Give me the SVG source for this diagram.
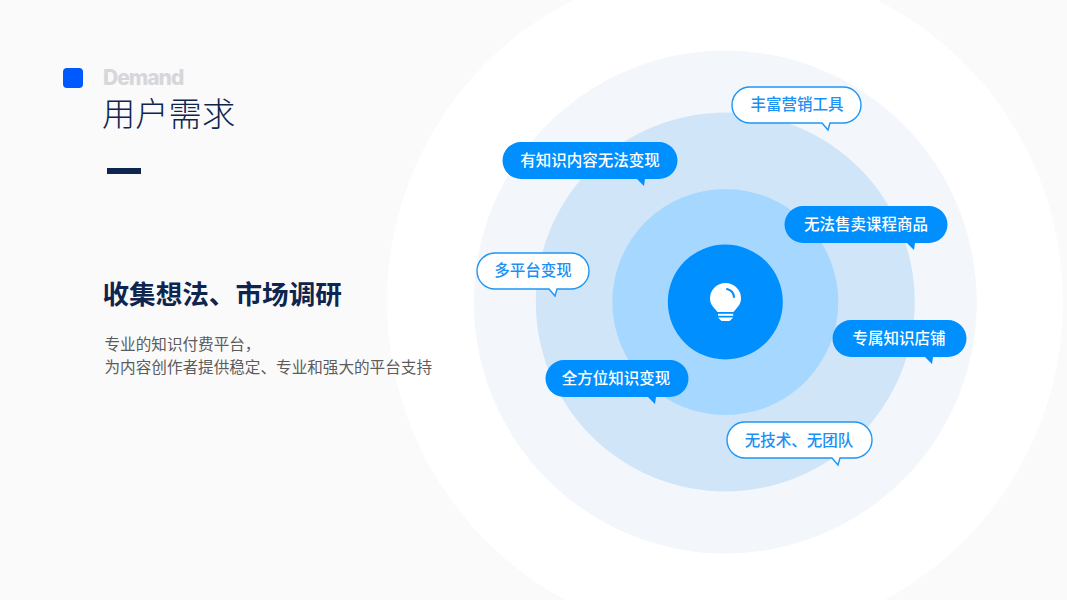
<svg xmlns="http://www.w3.org/2000/svg" width="1067" height="600" viewBox="0 0 1067 600">
<style>
text{font-family:"Noto Sans CJK SC","Noto Sans",sans-serif}
.lbl{font-size:15.5px;font-weight:500;text-anchor:middle}
.f path{fill:#008fff}
.f text{fill:#fff}
.o path{fill:#fff;stroke:#1e96f5;stroke-width:1.4}
.o text{fill:#1b90f5}
</style>
<rect width="1067" height="600" fill="#fafafa"/>
<g id="rings">
<circle cx="725" cy="302" r="338" fill="#fff"/>
<circle cx="725.300" cy="302" r="251.500" fill="#f3f7fc"/>
<circle cx="725.300" cy="302" r="189.500" fill="#d0e5f8"/>
<circle cx="725.300" cy="302" r="113" fill="#a6d8ff"/>
<circle cx="725.300" cy="302" r="57.500" fill="#008fff"/>
</g>
<g id="bulb">
<path d="M725.500 283a15.500 15.500 0 0 1 15.500 15.500c0 5-2.500 7.500-5 10.500-1.500 1.800-2.500 3-2.700 3h-15.600c-.2 0-1.200-1.200-2.700-3-2.500-3-5-5.500-5-10.500a15.500 15.500 0 0 1 15.500-15.500z" fill="#fff"/>
<path d="M727 289a9 9 0 0 1 7 8" fill="none" stroke="#008fff" stroke-width="2" stroke-linecap="round"/>
<rect x="718" y="313.800" width="15.200" height="2" fill="#fff"/>
<path d="M718 317.500h15.200l-3.500 3.500h-8.200z" fill="#fff"/>
</g>
<g id="title">
<rect x="63" y="68" width="20" height="20" rx="4" fill="#0058ff"/>
<text x="103" y="85" font-size="21" font-weight="800" fill="#d6d7db" style="font-family:'Inter','Noto Sans',sans-serif" letter-spacing="-1">Demand</text>
<text x="102" y="126" font-size="33.300" font-weight="300" fill="#0e2550">用户需求</text>
<rect x="107" y="168" width="34" height="6" fill="#0e2550"/>
</g>
<g id="body">
<text x="102.500" y="304" font-size="26.600" font-weight="700" fill="#0e2550">收集想法、市场调研</text>
<text x="104.500" y="350" font-size="15.600" fill="#5c5c5c">专业的知识付费平台，</text>
<text x="104.500" y="373" font-size="15.600" fill="#5c5c5c">为内容创作者提供稳定、专业和强大的平台支持</text>
</g>
<g id="n1" class="o"><path d="M750 87h93a18 18 0 0 1 0 36h-13l-2 7-6-7h-72a18 18 0 0 1 0-36z"/><text class="lbl" x="797" y="110">丰富营销工具</text></g>
<g id="n2" class="f"><path d="M521 142h138a18 18 0 0 1 0 37h-14l-1 7-7-7h-116a18 18 0 0 1 0-37z"/><text class="lbl" x="590" y="166">有知识内容无法变现</text></g>
<g id="n3" class="f"><path d="M803 206h126a18 18 0 0 1 0 37h-14l-1 7-7-7h-104a18 18 0 0 1 0-37z"/><text class="lbl" x="866" y="230">无法售卖课程商品</text></g>
<g id="n4" class="o"><path d="M495 253h76a18 18 0 0 1 0 36h-14l-2 7-6-7h-54a18 18 0 0 1 0-36z"/><text class="lbl" x="533" y="276">多平台变现</text></g>
<g id="n5" class="f"><path d="M851 320h97a18 18 0 0 1 0 37h-15l-1 7-7-7h-74a18 18 0 0 1 0-37z"/><text class="lbl" x="899" y="344">专属知识店铺</text></g>
<g id="n6" class="f"><path d="M564 360h106a18 18 0 0 1 0 37h-14l-1 7-7-7h-84a18 18 0 0 1 0-37z"/><text class="lbl" x="616" y="384">全方位知识变现</text></g>
<g id="n7" class="o"><path d="M745 422h109a18 18 0 0 1 0 36h-14l-2 7-6-7h-87a18 18 0 0 1 0-36z"/><text class="lbl" x="799" y="446">无技术、无团队</text></g>
</svg>
